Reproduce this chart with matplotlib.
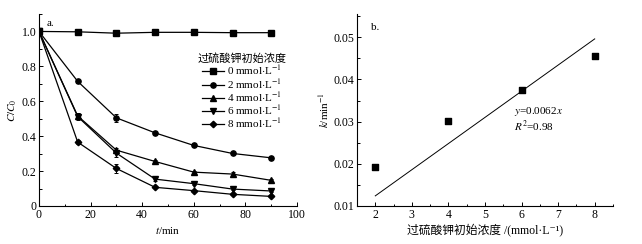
import numpy as np
import matplotlib.pyplot as plt
from matplotlib.ticker import MultipleLocator

plt.rcParams['font.family'] = ['Liberation Serif', 'Noto Sans CJK SC',
                               'DejaVu Sans']
plt.rcParams['mathtext.fontset'] = 'stix'
plt.rcParams['font.size'] = 8

# panel a: C/C0 over time
t = [0, 15, 30, 45, 60, 75, 90]
conc_labels = ['0', '2', '4', '6', '8']
c_0 = [1.0, 0.998, 0.990, 0.995, 0.995, 0.993, 0.993]
c_2 = [1.0, 0.714, 0.505, 0.419, 0.347, 0.301, 0.276]
c_4 = [1.0, 0.516, 0.320, 0.255, 0.194, 0.183, 0.147]
c_6 = [1.0, 0.512, 0.303, 0.154, 0.128, 0.097, 0.086]
c_8 = [1.0, 0.366, 0.215, 0.107, 0.088, 0.067, 0.055]
err_0 = [0, 0.004, 0.010, 0.005, 0.004, 0.004, 0.004]
err_2 = [0, 0.010, 0.022, 0.006, 0.006, 0.005, 0.006]
err_4 = [0, 0.015, 0.012, 0.008, 0.008, 0.010, 0.008]
err_6 = [0, 0.020, 0.020, 0.008, 0.008, 0.008, 0.008]
err_8 = [0, 0.010, 0.025, 0.006, 0.006, 0.006, 0.006]
markers = ['s', 'o', '^', 'v', 'D']

# panel b: rate constant vs concentration
k_conc = [2, 4, 6, 8]
k_vals = [0.0192, 0.0302, 0.0375, 0.0455]
slope = 0.0062
fit_x = [2, 8]

fig = plt.figure(figsize=(6.42, 2.44), dpi=100)
ax1 = fig.add_axes([39 / 642, 38 / 244, 258 / 642, 192 / 244])
ax2 = fig.add_axes([357 / 642, 38 / 244, 256 / 642, 192 / 244])

series = [c_0, c_2, c_4, c_6, c_8]
errs = [err_0, err_2, err_4, err_6, err_8]
for i in range(len(series)):
    ms = 3.8 if markers[i] != 'D' else 3.3
    ax1.errorbar(t, series[i], yerr=errs[i], fmt='none', ecolor='black',
                 capsize=1.5, elinewidth=0.7, capthick=0.7)
    ax1.plot(t, series[i], color='black', lw=0.9, marker=markers[i], ms=ms,
             label=conc_labels[i] + r' mmol$\cdot$L$^{-1}$')

ax1.set_xlim(0, 100)
ax1.set_ylim(0, 1.1)
ax1.set_xticks([0, 20, 40, 60, 80, 100])
ax1.set_yticks([0, 0.2, 0.4, 0.6, 0.8, 1.0])
ax1.set_yticklabels(['0', '0.2', '0.4', '0.6', '0.8', '1.0'])
ax1.xaxis.set_minor_locator(MultipleLocator(10))
ax1.yaxis.set_minor_locator(MultipleLocator(0.1))
ax1.set_xlabel(r'$t$/min', labelpad=3)
ax1.set_ylabel(r'$C/C_0$', labelpad=2)
ax1.text(0.03, 0.975, 'a.', transform=ax1.transAxes, va='top')
leg = ax1.legend(title='过硫酸钾初始浓度', frameon=False, loc='upper right',
                 bbox_to_anchor=(0.985, 0.83), fontsize=8, handlelength=2.0,
                 labelspacing=-0.05, borderpad=0.1, handletextpad=0.3)
leg.get_title().set_family(['Noto Sans CJK SC'])
leg.get_title().set_fontsize(8)

ax2.scatter(k_conc, k_vals, marker='s', s=14, color='black', zorder=3)
ax2.plot(fit_x, [slope * x for x in fit_x], color='black', lw=0.7)
ax2.set_xlim(1.5, 8.5)
ax2.set_ylim(0.01, 0.0555)
ax2.set_xticks([2, 3, 4, 5, 6, 7, 8])
ax2.set_yticks([0.01, 0.02, 0.03, 0.04, 0.05])
ax2.xaxis.set_minor_locator(MultipleLocator(0.5))
ax2.yaxis.set_minor_locator(MultipleLocator(0.005))
ax2.set_xlabel('过硫酸钾初始浓度 /(mmol·L⁻¹)', labelpad=2, fontsize=8.5)
ax2.set_ylabel(r'$k$/min$^{-1}$', labelpad=2)
ax2.text(0.055, 0.955, 'b.', transform=ax2.transAxes, va='top')
ax2.text(5.8, 0.0318, r'$y$=0.0062$x$')
ax2.text(5.8, 0.0278, r'$R^2$=0.98')

for ax in (ax1, ax2):
    ax.spines['top'].set_visible(False)
    ax.spines['right'].set_visible(False)
    ax.tick_params(direction='in', which='both', length=3, width=0.7,
                   labelsize=8.5, pad=2)
    ax.tick_params(which='minor', length=1.8)
    for s in ('left', 'bottom'):
        ax.spines[s].set_linewidth(0.8)

fig.savefig('out.png', dpi=100)
